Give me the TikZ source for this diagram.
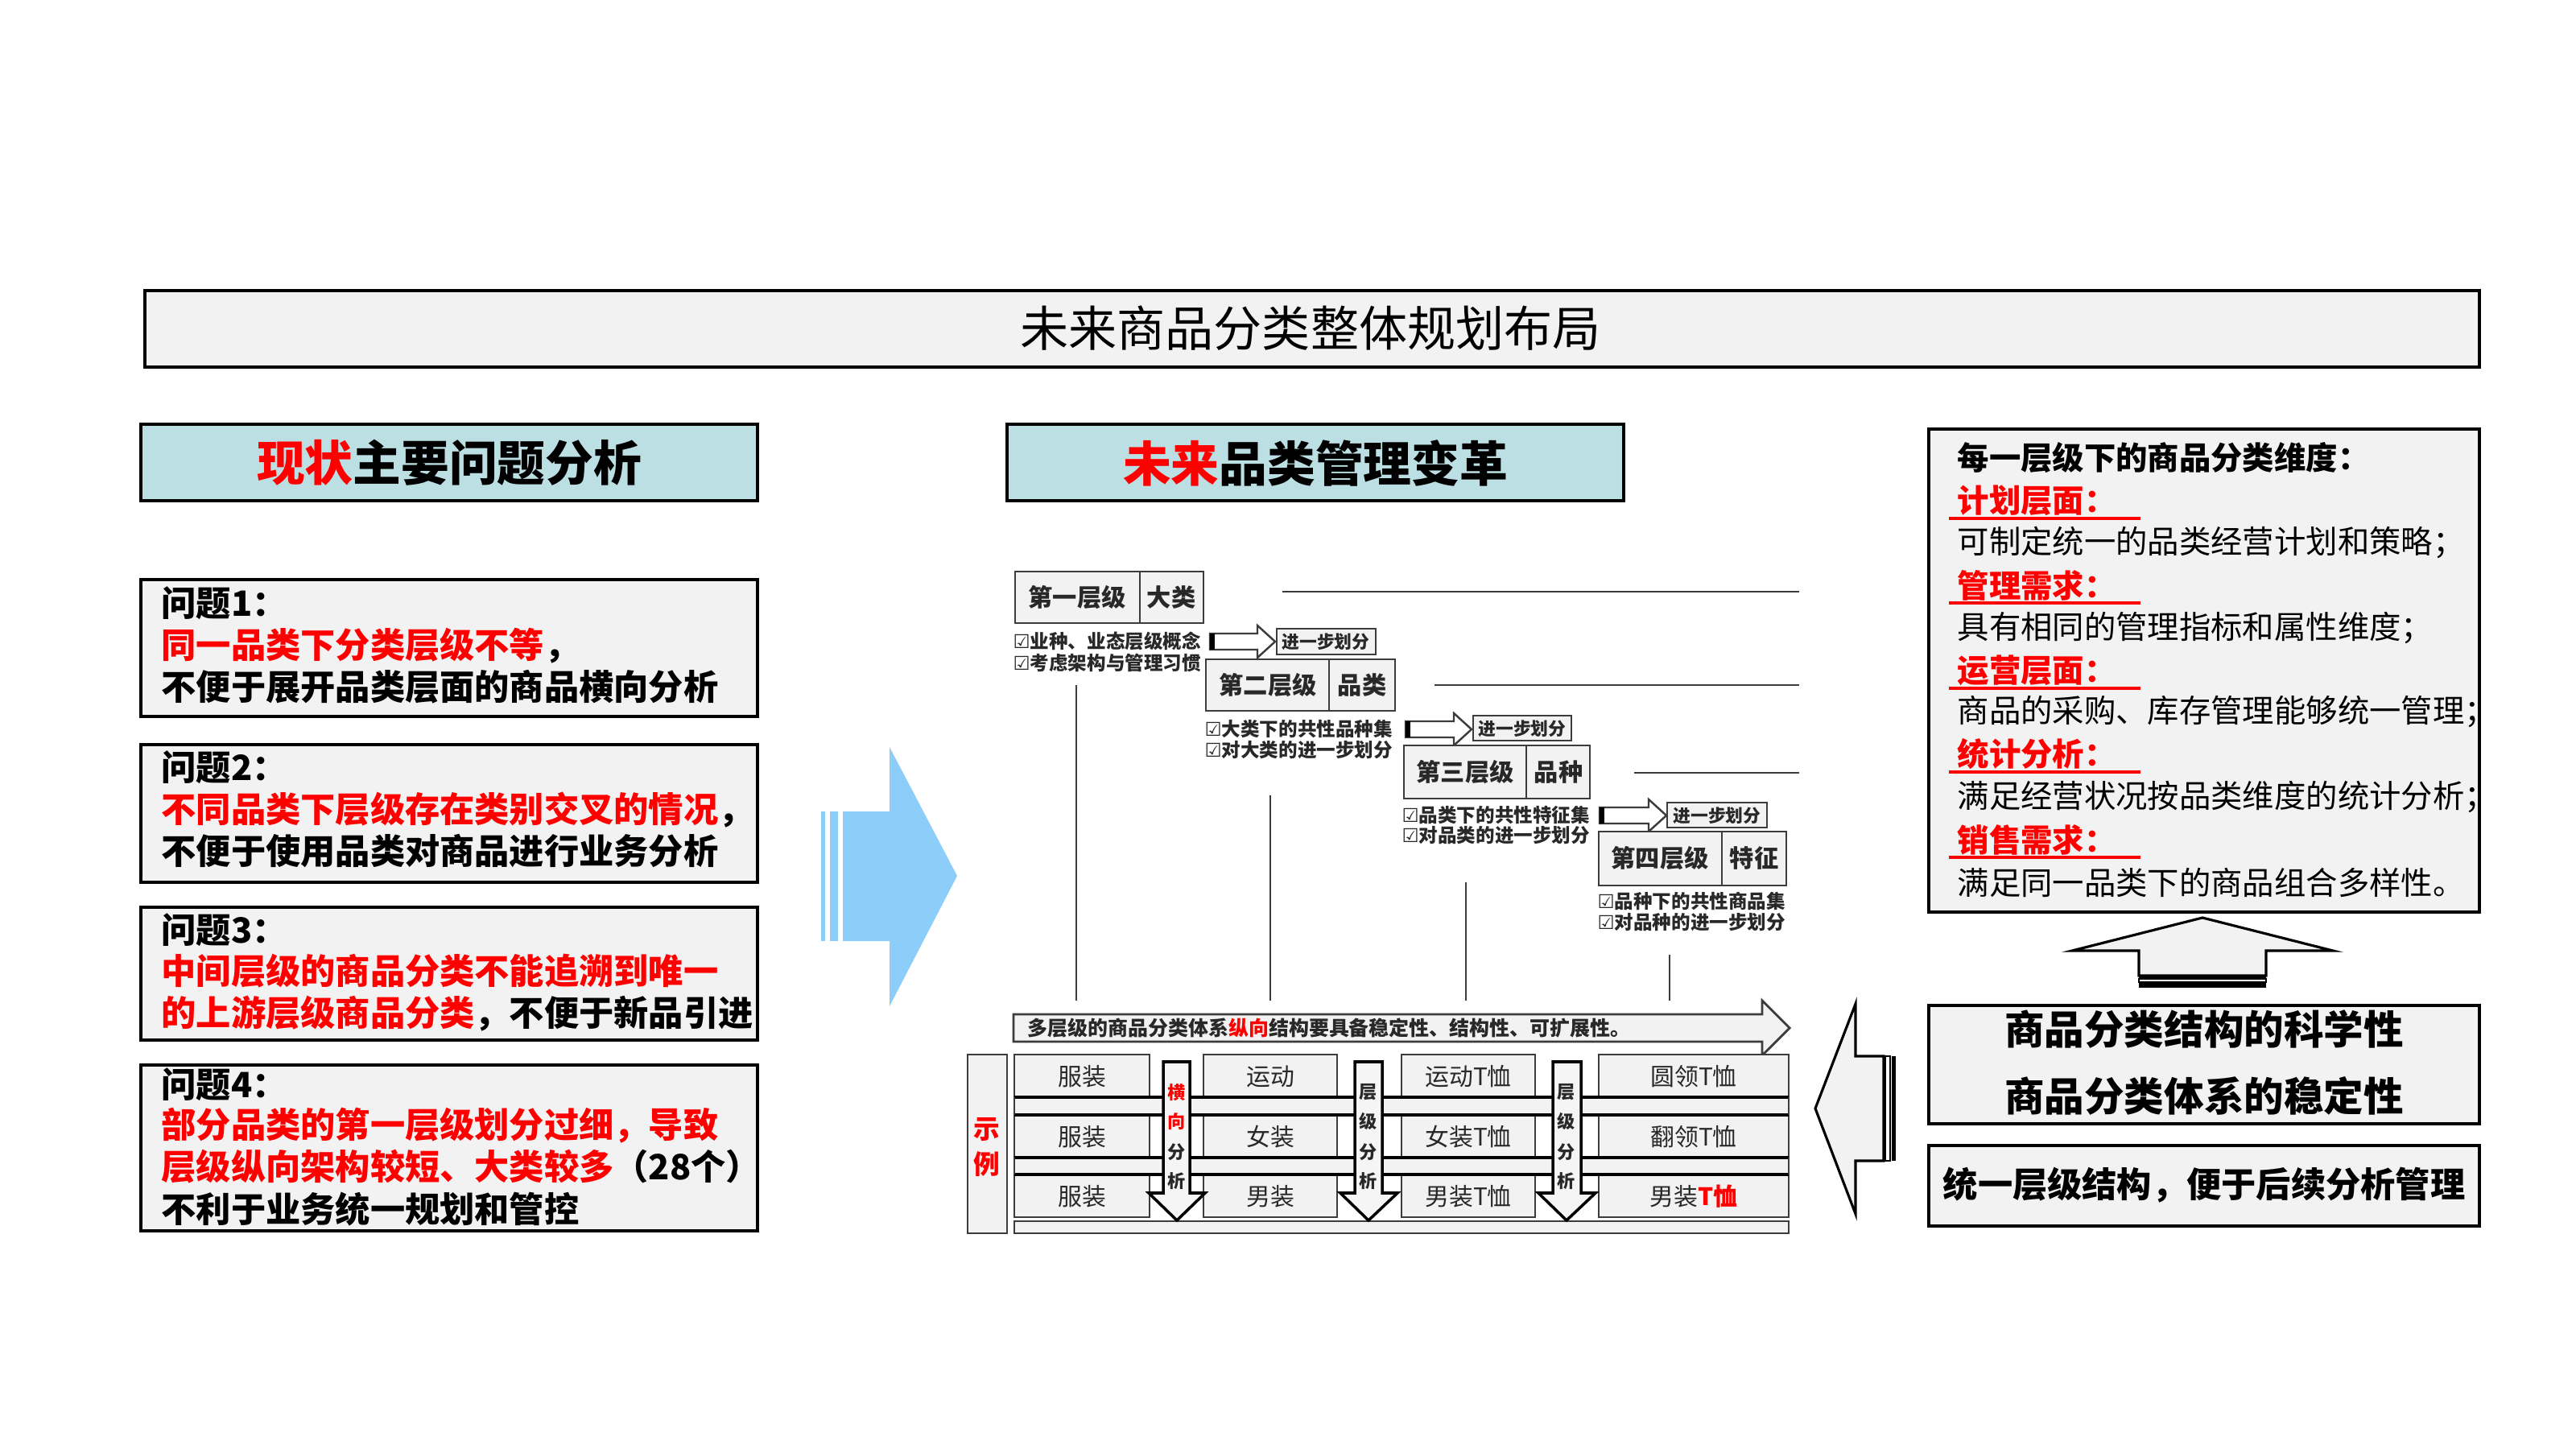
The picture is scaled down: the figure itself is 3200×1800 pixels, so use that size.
\documentclass[tikz,border=0pt]{standalone}
\usepackage{fontspec}
\setmainfont{Noto Sans CJK SC}
\newfontfamily\symfont{DejaVu Sans}
\usetikzlibrary{fit}
\definecolor{boxgray}{RGB}{242,242,242}
\definecolor{hdrblue}{RGB}{188,223,228}
\definecolor{arrblue}{RGB}{141,205,250}
\definecolor{myred}{RGB}{255,0,0}
\definecolor{imgline}{RGB}{60,60,60}
\definecolor{imgtext}{RGB}{40,40,40}
\newcommand\fs[2]{\fontsize{#1}{#2}\selectfont}
\newcommand\rd[1]{\textcolor{myred}{#1}}
\newcommand\chk{{\symfont\char"2611}}
\tikzset{
  graybox/.style={draw=black, line width=0.9pt, fill=boxgray, inner sep=0pt},
  hdrbox/.style={draw=black, line width=0.9pt, fill=hdrblue, inner sep=0pt},
  imgbox/.style={draw=imgline, line width=0.6pt, fill=boxgray, inner sep=0pt},
  lvlbox/.style={draw=imgline, line width=0.8pt, fill=boxgray, inner sep=0pt},
  ttltext/.style={inner sep=0pt, font=\fs{17.1pt}{20pt}},
  hdrtext/.style={inner sep=0pt, font=\fs{17pt}{20pt}\bfseries},
  lbxtext/.style={inner sep=0pt, anchor=west, font=\fs{12.3pt}{15pt}\bfseries},
  rhead/.style={inner sep=0pt, anchor=west, font=\fs{11.2pt}{14pt}\bfseries},
  rbody/.style={inner sep=0pt, anchor=west, font=\fs{11.2pt}{14pt}},
  rlabel/.style={inner sep=0pt, anchor=west, font=\fs{11.2pt}{14pt}\bfseries, text=myred},
  bigtext/.style={inner sep=0pt, font=\fs{14.1pt}{17pt}\bfseries},
  midtext/.style={inner sep=0pt, font=\fs{12.3pt}{15pt}\bfseries},
  lvltext/.style={inner sep=0pt, font=\fs{8.6pt}{10pt}\bfseries, text=imgtext},
  subtext/.style={inner sep=0pt, anchor=west, font=\fs{6.7pt}{8pt}\bfseries, text=imgtext},
  steptext/.style={inner sep=0pt, font=\fs{6.2pt}{8pt}\bfseries, text=imgtext},
  celltext/.style={inner sep=0pt, font=\fs{8.5pt}{10pt}, text=imgtext},
  vtext/.style={inner sep=0pt, font=\fs{6.3pt}{8pt}\bfseries, text=imgtext},
  imgrule/.style={draw=imgline, line width=0.8pt},
  hollowarrow/.style={draw=imgline, line width=0.7pt, fill=white},
  downarrow/.style={draw=black, line width=1pt, fill=white!96!black},
}
\begin{document}
\begin{tikzpicture}[x=0.1mm,y=-0.1mm]
\useasboundingbox[fill=white] (0,0) rectangle (3200,1800);

% ---------- title ----------
\node[graybox, fit={(180,361) (3080,456)}] (titlebox) {};
\node[ttltext] (title) at (1628,408) {未来商品分类整体规划布局};

% ---------- headers ----------
\node[hdrbox, fit={(175,527) (941,622)}] (lefthdr) {};
\node[hdrtext] (lefthdrtext) at (558,575) {\rd{现状}主要问题分析};
\node[hdrbox, fit={(1251,527) (2017,622)}] (midhdr) {};
\node[hdrtext] (midhdrtext) at (1634,575) {\rd{未来}品类管理变革};

% ---------- left problem boxes ----------
\node[graybox, fit={(175,720) (941,890)}] (p1) {};
\node[lbxtext] (p1a) at (200,749) {问题1：};
\node[lbxtext] (p1b) at (200,802) {\rd{同一品类下分类层级不等}，};
\node[lbxtext] (p1c) at (200,853) {不便于展开品类层面的商品横向分析};

\node[graybox, fit={(175,925) (941,1096)}] (p2) {};
\node[lbxtext] (p2a) at (200,953) {问题2：};
\node[lbxtext] (p2b) at (200,1006) {\rd{不同品类下层级存在类别交叉的情况}，};
\node[lbxtext] (p2c) at (200,1057) {不便于使用品类对商品进行业务分析};

\node[graybox, fit={(175,1127) (941,1292)}] (p3) {};
\node[lbxtext] (p3a) at (200,1155) {问题3：};
\node[lbxtext] (p3b) at (200,1206) {\rd{中间层级的商品分类不能追溯到唯一}};
\node[lbxtext] (p3c) at (200,1259) {\rd{的上游层级商品分类}，不便于新品引进};

\node[graybox, fit={(175,1323) (941,1529)}] (p4) {};
\node[lbxtext] (p4a) at (200,1347) {问题4：};
\node[lbxtext] (p4b) at (200,1398) {\rd{部分品类的第一层级划分过细，导致}};
\node[lbxtext] (p4c) at (200,1449) {\rd{层级纵向架构较短、大类较多}（28个）};
\node[lbxtext] (p4d) at (200,1502) {不利于业务统一规划和管控};

% ---------- blue arrow ----------
\fill[arrblue] (1020,1008) rectangle (1025,1169);
\fill[arrblue] (1031,1008) rectangle (1041,1169);
\fill[arrblue] (1047,1008) -- (1105,1008) -- (1105,928) -- (1189,1088)
  -- (1105,1250) -- (1105,1169) -- (1047,1169) -- cycle;

% ---------- middle diagram: levels ----------
% level 1
\draw[imgrule] (1593,735) -- (2235,735);
\node[lvlbox, fit={(1261,710) (1495,774)}] (lv1) {};
\draw[imgrule] (1416,710) -- (1416,774);
\node[lvltext] (lv1a) at (1338,742) {第一层级};
\node[lvltext] (lv1b) at (1455,742) {大类};
\node[subtext] (lv1s1) at (1258,797) {\chk 业种、业态层级概念};
\node[subtext] (lv1s2) at (1258,823) {\chk 考虑架构与管理习惯};
\draw[hollowarrow] (1503,787) -- (1562,787) -- (1562,777) -- (1584,797)
  -- (1562,817) -- (1562,807) -- (1503,807) -- cycle;
\fill[black] (1503,787) rectangle (1509,807);
\node[imgbox, line width=0.8pt, fit={(1586,781) (1709,813)}] (st1) {};
\node[steptext] (st1t) at (1647,797) {进一步划分};

% level 2
\draw[imgrule] (1782,851) -- (2235,851);
\node[lvlbox, fit={(1498,819) (1733,883)}] (lv2) {};
\draw[imgrule] (1651,819) -- (1651,883);
\node[lvltext] (lv2a) at (1575,851) {第二层级};
\node[lvltext] (lv2b) at (1692,851) {品类};
\node[subtext] (lv2s1) at (1496,905) {\chk 大类下的共性品种集};
\node[subtext] (lv2s2) at (1496,932) {\chk 对大类的进一步划分};
\draw[hollowarrow] (1746,896) -- (1806,896) -- (1806,886) -- (1828,906)
  -- (1806,926) -- (1806,916) -- (1746,916) -- cycle;
\fill[black] (1746,896) rectangle (1752,916);
\node[imgbox, line width=0.8pt, fit={(1830,889) (1952,920)}] (st2) {};
\node[steptext] (st2t) at (1891,905) {进一步划分};

% level 3
\draw[imgrule] (2030,960) -- (2235,960);
\node[lvlbox, fit={(1744,926) (1975,992)}] (lv3) {};
\draw[imgrule] (1896,926) -- (1896,992);
\node[lvltext] (lv3a) at (1820,959) {第三层级};
\node[lvltext] (lv3b) at (1936,959) {品种};
\node[subtext] (lv3s1) at (1741,1012) {\chk 品类下的共性特征集};
\node[subtext] (lv3s2) at (1741,1038) {\chk 对品类的进一步划分};
\draw[hollowarrow] (1987,1003) -- (2048,1003) -- (2048,993) -- (2070,1013)
  -- (2048,1033) -- (2048,1023) -- (1987,1023) -- cycle;
\fill[black] (1987,1003) rectangle (1993,1023);
\node[imgbox, line width=0.8pt, fit={(2071,997) (2195,1028)}] (st3) {};
\node[steptext] (st3t) at (2133,1013) {进一步划分};

% level 4
\node[lvlbox, fit={(1986,1033) (2219,1100)}] (lv4) {};
\draw[imgrule] (2139,1033) -- (2139,1100);
\node[lvltext] (lv4a) at (2062,1066) {第四层级};
\node[lvltext] (lv4b) at (2179,1066) {特征};
\node[subtext] (lv4s1) at (1984,1119) {\chk 品种下的共性商品集};
\node[subtext] (lv4s2) at (1984,1146) {\chk 对品种的进一步划分};

% vertical rules
\draw[imgrule] (1337,851) -- (1337,1243);
\draw[imgrule] (1578,988) -- (1578,1243);
\draw[imgrule] (1821,1096) -- (1821,1243);
\draw[imgrule] (2074,1186) -- (2074,1243);

% long arrow
\draw[draw=imgline, line width=0.8pt, fill=boxgray] (1259,1260) -- (2189,1260) -- (2189,1243) -- (2223,1277)
  -- (2189,1311) -- (2189,1294) -- (1259,1294) -- cycle;
\node[inner sep=0pt, anchor=west, font=\fs{7.1pt}{8pt}\bfseries, text=imgtext] (longtxt) at (1276,1277)
  {多层级的商品分类体系\rd{纵向}结构要具备稳定性、结构性、可扩展性。};

% example label
\node[imgbox, line width=0.8pt, fit={(1202,1310) (1251,1532)}] (exbox) {};
\node[inner sep=0pt, font=\fs{9.3pt}{12.6pt}\bfseries, text=myred, align=center] (extext) at (1226,1425) {示\\例};

% grid rows
\foreach \ya/\yb in {1310/1363, 1385/1438, 1459/1512}{
  \foreach \xa/\xb in {1260/1428, 1495/1661, 1741/1907, 1986/2222}{
    \draw[draw=imgline, line width=0.6pt, fill=boxgray] (\xa,\ya) rectangle (\xb,\yb);
  }
}
\foreach \ya/\yb in {1363/1385, 1438/1459}{
  \fill[boxgray] (1260,\ya) rectangle (2222,\yb);
  \draw[black, line width=1.2pt] (1260,\ya) -- (2222,\ya);
  \draw[black, line width=1.2pt] (1260,\yb) -- (2222,\yb);
  \draw[imgline, line width=0.6pt] (1260,\ya) -- (1260,\yb) (2222,\ya) -- (2222,\yb);
}
\draw[draw=imgline, line width=0.8pt, fill=boxgray] (1260,1517) rectangle (2222,1532);

% cell texts
\node[celltext] (c11) at (1344,1337) {服装};
\node[celltext] (c12) at (1578,1337) {运动};
\node[celltext] (c13) at (1824,1337) {运动T恤};
\node[celltext] (c14) at (2104,1337) {圆领T恤};
\node[celltext] (c21) at (1344,1412) {服装};
\node[celltext] (c22) at (1578,1412) {女装};
\node[celltext] (c23) at (1824,1412) {女装T恤};
\node[celltext] (c24) at (2104,1412) {翻领T恤};
\node[celltext] (c31) at (1344,1486) {服装};
\node[celltext] (c32) at (1578,1486) {男装};
\node[celltext] (c33) at (1824,1486) {男装T恤};
\node[celltext] (c34) at (2104,1486) {男装\textcolor{myred}{\bfseries T恤}};

% down arrows
\foreach \xa/\xb/\ha/\hb/\tx in {1445/1478/1427/1497/1462, 1683/1717/1665/1736/1700, 1929/1964/1911/1982/1946}{
  \draw[downarrow] (\xa,1319) -- (\xb,1319) -- (\xb,1482) -- (\hb,1482) -- (\tx,1516)
    -- (\ha,1482) -- (\xa,1482) -- cycle;
}
\node[vtext, text=myred] (da1a) at (1462,1357) {横};
\node[vtext, text=myred] (da1b) at (1462,1393) {向};
\node[vtext] (da1c) at (1462,1431) {分};
\node[vtext] (da1d) at (1462,1467) {析};
\node[vtext] (da2a) at (1700,1357) {层};
\node[vtext] (da2b) at (1700,1393) {级};
\node[vtext] (da2c) at (1700,1431) {分};
\node[vtext] (da2d) at (1700,1467) {析};
\node[vtext] (da3a) at (1946,1357) {层};
\node[vtext] (da3b) at (1946,1393) {级};
\node[vtext] (da3c) at (1946,1431) {分};
\node[vtext] (da3d) at (1946,1467) {析};

% ---------- right side ----------
\node[graybox, fit={(2396,533) (3080,1133)}] (rbox) {};
\node[rhead] (r0) at (2431,569) {每一层级下的商品分类维度：};
\node[rlabel] (r1) at (2431,622) {计划层面：};
\node[rbody] (r2) at (2431,674) {可制定统一的品类经营计划和策略；};
\node[rlabel] (r3) at (2431,727) {管理需求：};
\node[rbody] (r4) at (2431,780) {具有相同的管理指标和属性维度；};
\node[rlabel] (r5) at (2431,833) {运营层面：};
\node[rbody] (r6) at (2431,884) {商品的采购、库存管理能够统一管理；};
\node[rlabel] (r7) at (2431,937) {统计分析：};
\node[rbody] (r8) at (2431,990) {满足经营状况按品类维度的统计分析；};
\node[rlabel] (r9) at (2431,1043) {销售需求：};
\node[rbody] (r10) at (2431,1096) {满足同一品类下的商品组合多样性。};
\foreach \y in {644,749,855,959,1065}{
  \draw[myred, line width=0.9pt] (2421,\y) -- (2659,\y);
}

% up arrow
\draw[draw=black, line width=0.9pt, fill=boxgray] (2657,1212) -- (2657,1181) -- (2574,1181) -- (2736,1140)
  -- (2898,1181) -- (2815,1181) -- (2815,1212) -- cycle;
\draw[black, line width=1.4pt] (2657,1213) -- (2815,1213);
\draw[black, line width=0.6pt, fill=white] (2657,1216) rectangle (2815,1220);
\draw[black, line width=1.6pt] (2657,1224) -- (2815,1224);

% science box
\node[graybox, fit={(2396,1249) (3080,1396)}] (sci) {};
\node[bigtext] (sci1) at (2738,1278) {商品分类结构的科学性};
\node[bigtext] (sci2) at (2738,1361) {商品分类体系的稳定性};

\node[graybox, fit={(2396,1423) (3080,1523)}] (uni) {};
\node[midtext] (unitext) at (2738,1472) {统一层级结构，便于后续分析管理};

% left arrow
\draw[draw=black, line width=0.9pt, fill=boxgray] (2340,1312) -- (2305,1312) -- (2305,1247) -- (2255,1377)
  -- (2305,1508) -- (2305,1442) -- (2340,1442) -- cycle;
\draw[black, line width=0.6pt, fill=white] (2342,1312) rectangle (2348,1442);
\fill[black] (2350,1312) rectangle (2355,1442);
\end{tikzpicture}
\end{document}
